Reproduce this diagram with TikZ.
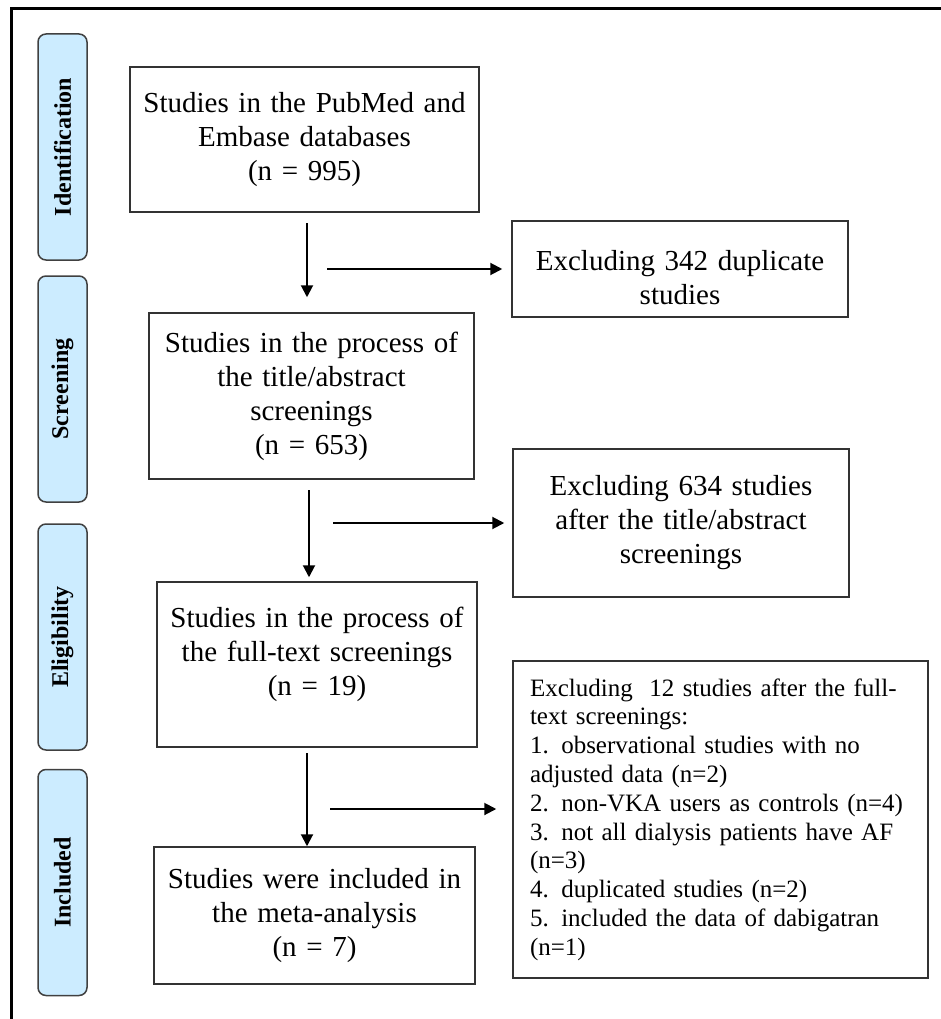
\documentclass[tikz,border=0pt]{standalone}
\usepackage{fontspec}
\setmainfont{Liberation Serif}
\usepackage{tikz}
\usetikzlibrary{arrows.meta}
\usetikzlibrary{positioning}
\usetikzlibrary{calc}
\definecolor{phaseblue}{RGB}{204,236,255}
\tikzstyle{phase}=[draw=black!75,fill=phaseblue,rounded corners=8pt,line width=1.5pt,rotate=90,minimum width=226pt,minimum height=49pt,inner sep=0pt,font=\fontsize{24}{28}\selectfont\bfseries]
\tikzstyle{stage}=[draw=black!80,line width=1.5pt,inner sep=0pt,align=center,font=\fontsize{29}{34}\selectfont]
\tikzstyle{arr}=[line width=2pt,-{Triangle[length=12pt,width=12pt]}]

\begin{document}
\begin{tikzpicture}[x=1pt,y=-1pt]
\useasboundingbox (0,0) rectangle (941,1019);
\draw[line width=3pt] (11,1019) -- (11,9) -- (941,9);

% phases down the left side
\node [phase] (p1) at (62.5,147) {Identification};
\node [phase] (p2) at (62.5,389) {Screening};
\node [phase] (p3) at (62.5,637) {Eligibility};
\node [phase] (p4) at (62.5,882.5) {Included};

\node [stage,text width=349pt,minimum height=145pt] (id) at (304.5,139.5)
  {Studies in the PubMed and\\Embase databases\\(n = 995)};
\node [stage,text width=325pt,minimum height=166pt] (sc) at (311.5,396)
  {Studies in the process of\\the title/abstract\\screenings\\(n = 653)};
\node [stage,text width=320pt,minimum height=165pt] (el) at (317,664.5)
  {Studies in the process of\\the full-text screenings\\(n = 19)\\[-8pt]\mbox{}};
\node [stage,text width=321pt,minimum height=137pt] (inc) at (314.5,915.5)
  {Studies were included in\\the meta-analysis\\(n = 7)};

\node [stage,text width=336pt,minimum height=96pt] (x1) at (680,269)
  {\rule{0pt}{37pt}Excluding 342 duplicate\\studies};
\node [stage,text width=336pt,minimum height=148pt] (x2) at (681,523)
  {Excluding 634 studies\\after the title/abstract\\screenings};
\node [stage,align=left,text width=381pt,inner xsep=17pt,minimum height=317pt,
  font=\fontsize{25}{28.8}\selectfont] (x3) at (720.5,819.5)
  {Excluding\ \ 12 studies after the full-\\text screenings:\\1. observational studies with no\\adjusted data (n=2)\\2. non-VKA users as controls (n=4)\\3. not all dialysis patients have AF\\(n=3)\\4. duplicated studies (n=2)\\5. included the data of dabigatran\\(n=1)};

\coordinate (A) at (307,223);
\coordinate (B) at (309,490);
\coordinate (C) at (307,753);
\coordinate (D) at (327,269);
\coordinate (E) at (333,523);
\coordinate (F) at (330,809);

\draw[arr,shorten >=15pt] (A) -- (A |- sc.north);
\draw[arr,shorten >=4pt] (B) -- (B |- el.north);
\draw[arr] (C) -- (C |- inc.north);
\draw[arr,shorten >=9pt] (D) -- (D -| x1.west);
\draw[arr,shorten >=8pt] (E) -- (E -| x2.west);
\draw[arr,shorten >=16pt] (F) -- (F -| x3.west);
\end{tikzpicture}
\end{document}
